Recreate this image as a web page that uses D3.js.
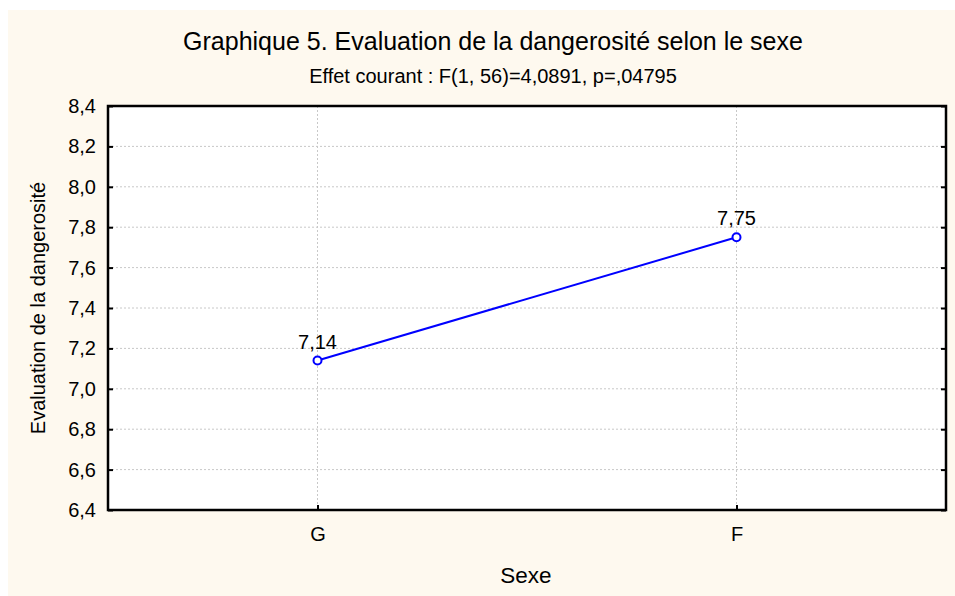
<!DOCTYPE html>
<html><head><meta charset="utf-8">
<script src="https://cdn.jsdelivr.net/npm/d3@7"></script>
<style>body{margin:0;background:#fff;} text{font-family:"Liberation Sans",Arial,sans-serif;fill:#000;}</style>
</head><body>
<svg id="c" width="955" height="596"></svg>
<script>
const categories = ["G", "F"];
const values = [7.14, 7.75];
const valueLabels = ["7,14", "7,75"];
const yTicks = [6.4, 6.6, 6.8, 7.0, 7.2, 7.4, 7.6, 7.8, 8.0, 8.2, 8.4];
const title = "Graphique 5. Evaluation de la dangerosité selon le sexe";
const subtitle = "Effet courant : F(1, 56)=4,0891, p=,04795";
const xTitle = "Sexe";
const yTitle = "Evaluation de la dangerosité";

const svg = d3.select("#c");
svg.append("rect").attr("x",8).attr("y",10).attr("width",947).attr("height",586).attr("fill","#fef9ef");

const L=108, R=946, T=106, B=510;
const x = d3.scalePoint().domain(categories).range([L,R]).padding(0.5);
const y = d3.scaleLinear().domain([6.4,8.4]).range([B,T]);
const fmt = d => d3.format(".1f")(d).replace(".", ",");

svg.append("rect").attr("x",L).attr("y",T).attr("width",R-L).attr("height",B-T).attr("fill","#fff");

// gridlines
svg.append("g").selectAll("line").data(yTicks.slice(1,-1)).join("line")
  .attr("x1",L).attr("x2",R).attr("y1",d=>y(d)).attr("y2",d=>y(d))
  .attr("stroke","#c8c8c8").attr("stroke-width",1).attr("stroke-dasharray","2,2");
svg.append("g").selectAll("line").data(categories).join("line")
  .attr("x1",d=>x(d)).attr("x2",d=>x(d)).attr("y1",T).attr("y2",B)
  .attr("stroke","#c8c8c8").attr("stroke-width",1).attr("stroke-dasharray","2,2");

// axes
const gl = svg.append("g").attr("transform",`translate(${L},0)`)
  .call(d3.axisLeft(y).tickValues(yTicks).tickFormat(fmt).tickSizeInner(-5).tickSizeOuter(0).tickPadding(12));
const gr = svg.append("g").attr("transform",`translate(${R},0)`)
  .call(d3.axisRight(y).tickValues(yTicks).tickFormat("").tickSizeInner(-5).tickSizeOuter(0));
const gb = svg.append("g").attr("transform",`translate(0,${B})`)
  .call(d3.axisBottom(x).tickSizeInner(-5).tickSizeOuter(0).tickPadding(17));
[gl,gr,gb].forEach(g=>{
  g.select(".domain").remove();
  g.selectAll(".tick line").attr("stroke","#000").attr("stroke-width",2);
  g.selectAll("text").attr("font-size",20).attr("font-family","Liberation Sans, Arial, sans-serif").attr("fill","#000");
});
svg.append("rect").attr("x",L).attr("y",T).attr("width",R-L).attr("height",B-T)
  .attr("fill","none").attr("stroke","#000").attr("stroke-width",2.5);

// line
const pts = categories.map((c,i)=>({c, v:values[i], l:valueLabels[i]}));
svg.append("path").datum(pts)
  .attr("d", d3.line().x(d=>x(d.c)).y(d=>y(d.v)))
  .attr("fill","none").attr("stroke","#0000ff").attr("stroke-width",2);
svg.append("g").selectAll("circle").data(pts).join("circle")
  .attr("cx",d=>x(d.c)).attr("cy",d=>y(d.v)).attr("r",4)
  .attr("fill","#fff").attr("stroke","#0000ff").attr("stroke-width",2);
svg.append("g").selectAll("text").data(pts).join("text")
  .attr("x",d=>x(d.c)).attr("y",d=>y(d.v)-12).attr("text-anchor","middle")
  .attr("font-size",20).text(d=>d.l);

// titles
svg.append("text").attr("x",493).attr("y",50).attr("text-anchor","middle").attr("font-size",25).text(title);
svg.append("text").attr("x",493).attr("y",83).attr("text-anchor","middle").attr("font-size",20).text(subtitle);
svg.append("text").attr("x",526).attr("y",583).attr("text-anchor","middle").attr("font-size",22.5).text(xTitle);
svg.append("text").attr("transform",`translate(45,${(T+B)/2}) rotate(-90)`).attr("text-anchor","middle").attr("font-size",20).text(yTitle);
</script>
</body></html>
